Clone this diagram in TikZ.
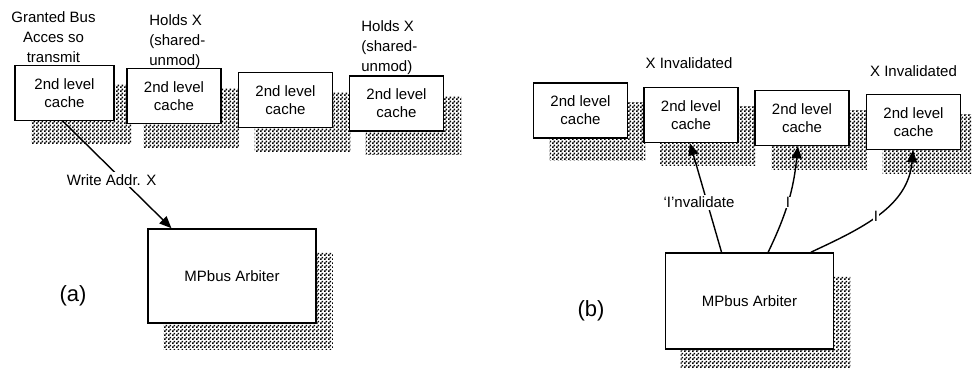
\documentclass[tikz,border=0pt]{standalone}
\usepackage{fontspec}
\setmainfont{Liberation Sans}
\usetikzlibrary{arrows.meta,patterns,backgrounds,calc}
\pgfdeclarepatternformonly{checker}{\pgfpointorigin}{\pgfqpoint{2pt}{2pt}}{\pgfqpoint{2pt}{2pt}}{%
  \pgfpathrectangle{\pgfpointorigin}{\pgfqpoint{1pt}{1pt}}%
  \pgfpathrectangle{\pgfqpoint{1pt}{1pt}}{\pgfqpoint{1pt}{1pt}}%
  \pgfusepath{fill}}
\tikzset{
  box/.style={draw, fill=white, line width=0.8pt, inner sep=0pt, align=center, font=\fontsize{7.5}{9}\selectfont},
  cachebox/.style={box, minimum width=47pt, minimum height=27.5pt},
  arbbox/.style={box, minimum width=84pt, minimum height=47pt},
  shadowfill/.style={pattern=checker, pattern color=black},
  lbl/.style={font=\fontsize{7.5}{10}\selectfont, inner sep=1pt},
  panellbl/.style={font=\fontsize{11}{13}\selectfont, inner sep=1pt},
  arr/.style={line width=0.7pt, -{Triangle[length=6pt,width=5pt]}},
}
\newcommand\castshadow[3]{\fill[shadowfill] ([shift={(#2,#3)}]#1.north west) rectangle ([shift={(#2,#3+2)}]#1.south east);}
\begin{document}
\begin{tikzpicture}[x=0.5pt,y=-0.5pt]
\useasboundingbox (0,0) rectangle (972,368);
% (a)
\node[cachebox, minimum width=49.5pt] (a1) at (64.5,93) {2nd level\\cache};
\node[cachebox] (a2) at (174,96) {2nd level\\cache};
\node[cachebox] (a3) at (285.5,100) {2nd level\\cache};
\node[cachebox] (a4) at (396.5,103.5) {2nd level\\cache};
\node[arbbox] (arbA) at (232,276) {MPbus Arbiter};
% (b)
\node[cachebox] (b1) at (580.5,110.5) {2nd level\\cache};
\node[cachebox] (b2) at (691,115) {2nd level\\cache};
\node[cachebox] (b3) at (802,118) {2nd level\\cache};
\node[cachebox] (b4) at (913.5,122) {2nd level\\cache};
\node[arbbox, minimum height=48pt] (arbB) at (749.5,301) {MPbus Arbiter};
\begin{scope}[on background layer]
  \castshadow{a1}{17}{20}
  \castshadow{a2}{17}{21}
  \castshadow{a3}{17}{21}
  \castshadow{a4}{17}{21}
  \castshadow{arbA}{16}{24}
  \castshadow{b1}{17}{20}
  \castshadow{b2}{17}{20}
  \castshadow{b3}{17}{21}
  \castshadow{b4}{17}{21}
  \castshadow{arbB}{16}{24}
\end{scope}
% labels
\node[lbl, align=center] (gb) at (53.5,37) {Granted Bus\\Acces so\\transmit};
\node[lbl, align=left, anchor=west] (hx1) at (147,42) {Holds X\\(shared-\\unmod)};
\node[lbl, align=left, anchor=west] (hx2) at (359,48) {Holds X\\(shared-\\unmod)};
\node[lbl] (xi1) at (689,63) {X Invalidated};
\node[lbl] (xi2) at (913.5,71) {X Invalidated};
\node[panellbl] (la) at (73,296) {(a)};
\node[panellbl] (lb) at (591,311) {(b)};
% connectors
\draw[arr] ($(a1.south west)!0.485!(a1.south east)$) -- node[lbl, fill=white, xshift=-2.75pt, yshift=-2.5pt] {Write Addr. X} ($(arbA.north west)!0.143!(arbA.north east)$);
\draw[arr] ($(arbB.north west)!0.335!(arbB.north east)$) -- node[lbl, fill=white, pos=0.46, xshift=-4pt] {`I'nvalidate} ($(b2.south west)!0.49!(b2.south east)$);
\draw[arr] ($(arbB.north west)!0.61!(arbB.north east)$) to[bend right=10] node[lbl, fill=white, pos=0.48, inner sep=0.3pt] {I} ($(b3.south west)!0.457!(b3.south east)$);
\draw[arr] ($(arbB.north west)!0.862!(arbB.north east)$) to[out=25, in=-95] node[lbl, fill=white, pos=0.47, inner sep=0.3pt] {I} ($(b4.south west)!0.495!(b4.south east)$);
\end{tikzpicture}
\end{document}
